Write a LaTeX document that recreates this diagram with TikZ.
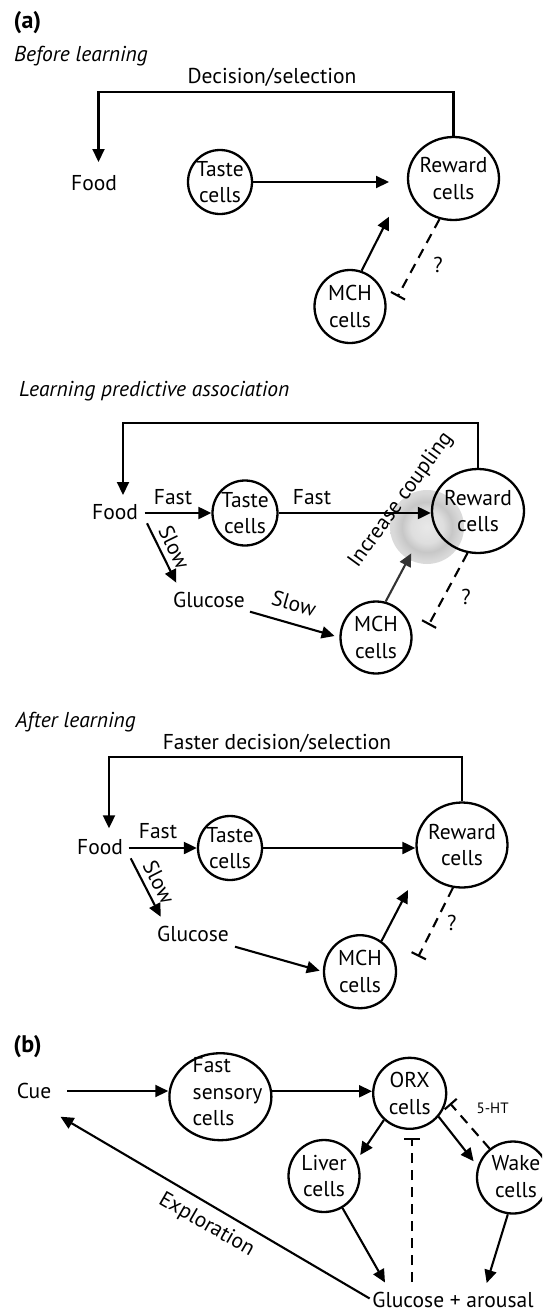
\documentclass[tikz,border=0pt]{standalone}
\usepackage{fontspec}
\setmainfont{PT Sans}
\usetikzlibrary{arrows.meta,shapes.geometric}
\newcommand{\dfont}{\fontsize{21.5}{26.5}\selectfont}
\newcommand{\bfont}{\fontsize{24}{28}\selectfont\bfseries}
\newcommand{\sfont}{\fontsize{15}{17}\selectfont}
\pgfdeclareradialshading{glowshade}{\pgfpoint{0bp}{0bp}}{color(0bp)=(black!9); color(11bp)=(black!13); color(17bp)=(black!22); color(23bp)=(black!15); color(34bp)=(black!11); color(44bp)=(black!6); color(50bp)=(white)}
\begin{document}
\begin{tikzpicture}[x=1pt,y=-1pt,
  txt/.style={inner sep=0pt, font=\dfont, align=center},
  ttl/.style={inner sep=0pt, font=\dfont\itshape, anchor=west},
  cell/.style={draw, ellipse, line width=2.3pt, inner sep=0pt},
  celltext/.style={font=\dfont, align=center, inner sep=0pt},
  arr/.style={line width=2.1pt, -{Triangle[length=13pt,width=12pt]}},
  inh/.style={line width=2.1pt, dash pattern=on 10pt off 7pt, -{Bar[width=16pt]}},
]
\useasboundingbox (0,0) rectangle (542,1312);
\clip (0,0) rectangle (542,1312);

% ---------------- Panel (a): before learning
\node[txt, font=\bfont] (alab) at (27.5,23) {(a)};
\node[ttl] (ttl1) at (14,56) {Before learning};
\node[txt] (dec1) at (272,77) {Decision/selection};
\node[txt] (food1) at (94,183) {Food};
\node[cell, minimum width=64pt, minimum height=64pt, label={[celltext]center:Taste\\cells}] (taste1) at (220,182) {};
\node[cell, minimum width=91pt, minimum height=83pt, label={[celltext]center:Reward\\cells}] (rew1) at (453.5,178.5) {};
\node[cell, minimum width=71pt, minimum height=73pt, label={[celltext]center:MCH\\cells}] (mch1) at (350,306.5) {};
\node[txt] (q1) at (438,265) {?};
\coordinate (c1a) at (98.5,92);
\coordinate (c1b) at (98.5,162);
\coordinate (c1m) at (389,216.7);
\coordinate (c1q) at (397.5,296.7);
\coordinate (c1t) at (389,182);
\draw[arr] (rew1.north) |- (c1a) -- (c1b);
\draw[arr] (taste1.east) -- (c1t);
\draw[arr] (mch1.72) -- (c1m);
\draw[inh] (rew1.-109) -- (c1q);

% ---------------- Learning predictive association
\node[ttl] (ttl2) at (19,391) {Learning predictive association};
\shade[shading=glowshade] (427,527) circle (37pt);
\node[txt] (food2) at (115,512) {Food};
\node[txt] (fast2a) at (173,497) {Fast};
\node[cell, minimum width=65pt, minimum height=65pt, label={[celltext]center:Taste\\cells}] (taste2) at (245,513) {};
\node[txt] (fast2b) at (312,497) {Fast};
\node[cell, minimum width=92pt, minimum height=84pt, label={[celltext]center:Reward\\cells}] (rew2) at (478,511) {};
\node[txt, rotate=54] (inc) at (401,500) {Increase coupling};
\node[txt, rotate=-64] (slow2a) at (174.5,547) {Slow};
\node[txt] (glc2) at (209,599.5) {Glucose};
\node[txt, rotate=-16] (slow2b) at (294,603.5) {Slow};
\node[cell, minimum width=71pt, minimum height=72pt, label={[celltext]center:MCH\\cells}] (mch2) at (376,637.5) {};
\node[txt] (q2) at (466,597) {?};
\coordinate (c2a) at (123,423.3);
\coordinate (c2b) at (123,495);
\coordinate (c2f1) at (144.5,513);
\coordinate (c2s1) at (147,523.3);
\coordinate (c2s2) at (176.3,582.7);
\coordinate (c2g1) at (250,611.7);
\coordinate (c2g2) at (334.6,636);
\coordinate (c2m) at (411.3,553.3);
\coordinate (c2q) at (428.6,625);
\draw[arr] (rew2.north) |- (c2a) -- (c2b);
\draw[arr] (c2f1) -- (taste2.west);
\draw[arr] (taste2.east) -- (taste2.east -| rew2.west);
\draw[arr] (c2s1) -- (c2s2);
\draw[arr] (c2g1) -- (c2g2);
\draw[arr, black!80] (mch2.75) -- (c2m);
\draw[inh] (rew2.-104) -- (c2q);

% ---------------- After learning
\node[ttl] (ttl3) at (15.5,722) {After learning};
\node[txt] (dec3) at (277,743.3) {Faster decision/selection};
\node[txt] (food3) at (100,847.5) {Food};
\node[txt] (fast3) at (158,831) {Fast};
\node[cell, minimum width=64pt, minimum height=64pt, label={[celltext]center:Taste\\cells}] (taste3) at (230,848) {};
\node[cell, minimum width=91pt, minimum height=85pt, label={[celltext]center:Reward\\cells}] (rew3) at (462,845) {};
\node[txt, rotate=-63] (slow3) at (159,882) {Slow};
\node[txt] (glc3) at (193,934) {Glucose};
\node[cell, minimum width=72pt, minimum height=73pt, label={[celltext]center:MCH\\cells}] (mch3) at (360,971.7) {};
\node[txt] (q3) at (451.8,923.3) {?};
\coordinate (c3a) at (109,757.3);
\coordinate (c3b) at (109,828.3);
\coordinate (c3f1) at (128.6,848);
\coordinate (c3s1) at (130.7,858.3);
\coordinate (c3s2) at (160.7,916.7);
\coordinate (c3g1) at (235,946.7);
\coordinate (c3g2) at (319.7,970.7);
\coordinate (c3m) at (408,890);
\coordinate (c3q) at (418.3,956.7);
\draw[arr] (rew3.north) |- (c3a) -- (c3b);
\draw[arr] (c3f1) -- (taste3.west);
\draw[arr] (taste3.east) -- (taste3.east -| rew3.west);
\draw[arr] (c3s1) -- (c3s2);
\draw[arr] (c3g1) -- (c3g2);
\draw[arr] (mch3.55) -- (c3m);
\draw[inh] (rew3.-102) -- (c3q);

% ---------------- Panel (b)
\node[txt, font=\bfont] (blab) at (27.5,1047) {(b)};
\node[txt] (cue) at (34,1091) {Cue};
\node[cell, minimum width=102pt, minimum height=87pt] (fastS) at (220.4,1096.7) {};
\node[celltext, align=left, anchor=west] (fastSt) at (192.5,1091.7) {Fast\\sensory\\cells};
\node[cell, minimum width=73pt, minimum height=71pt, label={[celltext]center:ORX\\cells}] (orx) at (409.7,1093.3) {};
\node[txt, font=\sfont] (ht) at (492.6,1108.3) {5-HT};
\node[cell, minimum width=71pt, minimum height=72pt, label={[celltext]center:Liver\\cells}] (liver) at (324,1176) {};
\node[cell, minimum width=72pt, minimum height=72pt, label={[celltext, xshift=3pt, yshift=1pt]center:Wake\\cells}] (wake) at (513,1177.5) {};
\node[txt] (glar) at (453,1300) {Glucose + arousal};
\node[txt, rotate=-30] (expl) at (206.5,1225) {Exploration};
\coordinate (cL) at (360.2,1155);
\coordinate (cW) at (473.6,1161.2);
\coordinate (cH) at (450,1103.3);
\coordinate (cGL) at (385,1282.5);
\coordinate (cGW) at (486.7,1283);
\coordinate (v1) at (412,1282);
\coordinate (v2) at (412,1138);
\coordinate (cE) at (60.5,1116.7);
\draw[arr, shorten <=16pt] (cue.east) -- (cue.east -| fastS.west);
\draw[arr] (fastS.6) -- (fastS.6 -| orx.west);
\draw[arr] (orx.-134) -- (cL);
\draw[arr] (orx.-39) -- (cW);
\draw[inh] (wake.129) -- (cH);
\draw[arr] (liver.-60) -- (cGL);
\draw[arr] (wake.-98) -- (cGW);
\draw[inh] (v1) -- (v2);
\draw[arr, shorten <=3pt] (glar.west) -- (cE);
\end{tikzpicture}
\end{document}
